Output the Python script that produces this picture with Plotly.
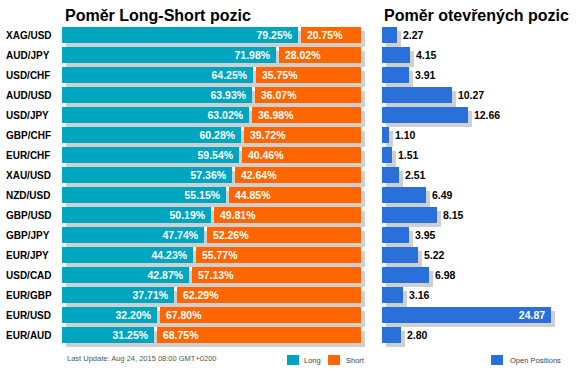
import plotly.graph_objects as go

pairs = ["XAG/USD", "AUD/JPY", "USD/CHF", "AUD/USD", "USD/JPY", "GBP/CHF", "EUR/CHF",
         "XAU/USD", "NZD/USD", "GBP/USD", "GBP/JPY", "EUR/JPY", "USD/CAD", "EUR/GBP",
         "EUR/USD", "EUR/AUD"]
long_pct = [79.25, 71.98, 64.25, 63.93, 63.02, 60.28, 59.54, 57.36, 55.15, 50.19,
            47.74, 44.23, 42.87, 37.71, 32.20, 31.25]
short_pct = [20.75, 28.02, 35.75, 36.07, 36.98, 39.72, 40.46, 42.64, 44.85, 49.81,
             52.26, 55.77, 57.13, 62.29, 67.80, 68.75]
open_pos = [2.27, 4.15, 3.91, 10.27, 12.66, 1.10, 1.51, 2.51, 6.49, 8.15, 3.95,
            5.22, 6.98, 3.16, 24.87, 2.80]

title_left = "Poměr Long-Short pozic"
title_right = "Poměr otevřených pozic"
footer = "Last Update: Aug 24, 2015 08:00 GMT+0200"
legend_long = "Long"
legend_short = "Short"
legend_open = "Open Positions"

# styles
W, H = 576, 374
TEAL = "#00A5BF"
ORANGE = "#FF6600"
BLUE = "#2970DB"
SHADOW = "#CFCFCF"
FONT = "Arial, Liberation Sans, sans-serif"
NB = "\u00a0"

L_X0, L_X1, L_PX = 62, 366, 2.99
R_X0, R_X1, R_PX = 382, 560, 6.8
Y_TOP, ROW_PX = 25, 20
Y_MAX = 15.7

n = len(pairs)
ys = list(range(n))
GAP = 1.0
sh_l = 4 / L_PX
sh_r = 4 / R_PX
VAL_FONT = 10.5

fig = go.Figure()

# left shadows
totals = [a + b for a, b in zip(long_pct, short_pct)]
fig.add_trace(go.Bar(orientation="h", y=ys, x=totals, base=[sh_l] * n, width=0.8, offset=-0.2,
                     marker=dict(color=SHADOW, line=dict(width=0)), hoverinfo="skip",
                     xaxis="x", yaxis="y", showlegend=False))
fig.add_trace(go.Bar(orientation="h", y=ys, x=[v - GAP * 0.4 for v in long_pct], base=[0] * n,
                     width=0.8, offset=-0.4,
                     marker=dict(color=TEAL, line=dict(width=0)),
                     text=[f"{v:.2f}%" + NB for v in long_pct], textposition="inside",
                     insidetextanchor="end", textangle=0, constraintext="none",
                     insidetextfont=dict(family=FONT, size=VAL_FONT, color="white", weight="bold"),
                     xaxis="x", yaxis="y", showlegend=False))
fig.add_trace(go.Bar(orientation="h", y=ys, x=[v - GAP * 0.6 for v in short_pct],
                     base=[v + GAP * 0.6 for v in long_pct], width=0.8, offset=-0.4,
                     marker=dict(color=ORANGE, line=dict(width=0)),
                     text=[NB + f"{v:.2f}%" for v in short_pct], textposition="inside",
                     insidetextanchor="start", textangle=0, constraintext="none",
                     insidetextfont=dict(family=FONT, size=VAL_FONT, color="white", weight="bold"),
                     xaxis="x", yaxis="y", showlegend=False))

# right
r_max = 25
fig.add_trace(go.Bar(orientation="h", y=ys, x=open_pos, base=[sh_r] * n, width=0.8, offset=-0.2,
                     marker=dict(color=SHADOW, line=dict(width=0)), hoverinfo="skip",
                     xaxis="x2", yaxis="y2", showlegend=False))
positions = ["inside" if v > 0.9 * r_max else "outside" for v in open_pos]
fig.add_trace(go.Bar(orientation="h", y=ys, x=open_pos, width=0.8, offset=-0.4,
                     marker=dict(color=BLUE, line=dict(width=0)),
                     text=[(f"{v:.2f}" + NB) if p == "inside" else (NB + f"{v:.2f}")
                           for v, p in zip(open_pos, positions)],
                     textposition=positions, insidetextanchor="end", textangle=0,
                     constraintext="none",
                     insidetextfont=dict(family=FONT, size=VAL_FONT, color="white", weight="bold"),
                     outsidetextfont=dict(family=FONT, size=VAL_FONT, color="black", weight="bold"),
                     cliponaxis=False,
                     xaxis="x2", yaxis="y2", showlegend=False))

y_dom = [(H - (Y_TOP + (Y_MAX + 0.5) * ROW_PX)) / H, (H - Y_TOP) / H]
ax_common = dict(showgrid=False, zeroline=False, showticklabels=False, ticks="", showline=False)
fig.update_layout(
    width=W, height=H, margin=dict(l=0, r=0, t=0, b=0),
    paper_bgcolor="white", plot_bgcolor="white",
    barmode="overlay", bargap=0,
    xaxis=dict(domain=[L_X0 / W, L_X1 / W], range=[0, (L_X1 - L_X0) / L_PX], **ax_common),
    xaxis2=dict(domain=[R_X0 / W, R_X1 / W], range=[0, (R_X1 - R_X0) / R_PX], **ax_common),
    yaxis=dict(domain=y_dom, range=[Y_MAX, -0.5], **ax_common),
    yaxis2=dict(domain=y_dom, range=[Y_MAX, -0.5], anchor="x2", **ax_common),
    font=dict(family=FONT),
)

ann = []
for i, p in enumerate(pairs):
    ann.append(dict(x=4 / W, xref="paper", y=i, yref="y", text=p, showarrow=False,
                    xanchor="left", yanchor="middle",
                    font=dict(family=FONT, size=10, color="black", weight="bold")))
ann.append(dict(x=63 / W, xref="paper", y=(H - 15) / H, yref="paper", text=title_left,
                showarrow=False, xanchor="left", yanchor="middle",
                font=dict(family=FONT, size=16, color="black", weight="bold")))
ann.append(dict(x=382 / W, xref="paper", y=(H - 15) / H, yref="paper", text=title_right,
                showarrow=False, xanchor="left", yanchor="middle",
                font=dict(family=FONT, size=16, color="black", weight="bold")))
ann.append(dict(x=65 / W, xref="paper", y=(H - 358) / H, yref="paper", text=footer,
                showarrow=False, xanchor="left", yanchor="middle",
                font=dict(family=FONT, size=7.5, color="#555555")))

shapes = []
legend_items = [(287, TEAL, legend_long, 302), (328, ORANGE, legend_short, 344),
                (491, BLUE, legend_open, 508)]
for x0, col, txt, tx in legend_items:
    shapes.append(dict(type="rect", xref="paper", yref="paper",
                       x0=x0 / W, x1=(x0 + 12) / W, y0=(H - 365) / H, y1=(H - 355) / H,
                       fillcolor=col, line=dict(width=0)))
    ann.append(dict(x=tx / W, xref="paper", y=(H - 360) / H, yref="paper", text=txt,
                    showarrow=False, xanchor="left", yanchor="middle",
                    font=dict(family=FONT, size=7.5, color="#444444")))

fig.update_layout(annotations=ann, shapes=shapes)
fig.write_html("out.html", config={"displayModeBar": False},
               post_script="document.body.style.margin='0px';")
